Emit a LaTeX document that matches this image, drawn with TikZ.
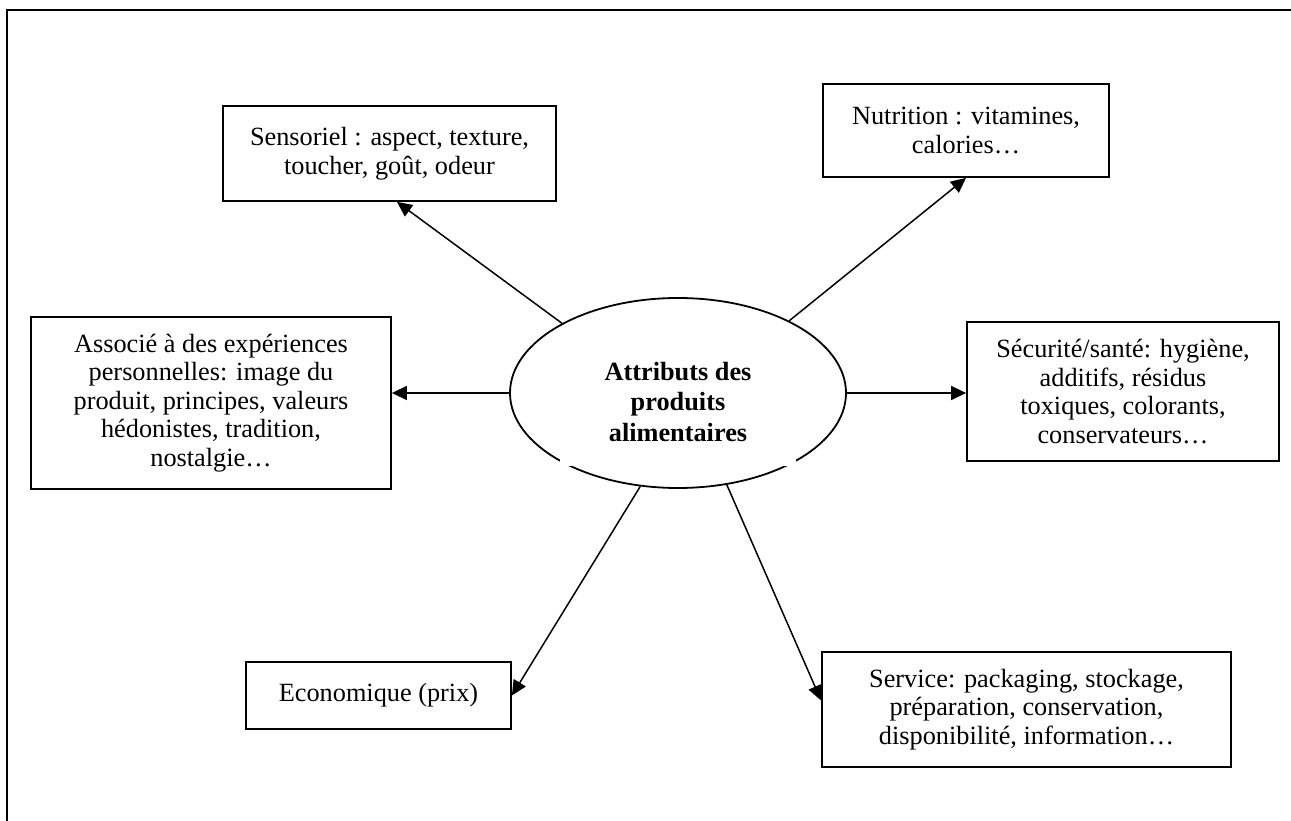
\documentclass[tikz,border=0pt]{standalone}
\usepackage{fontspec}
\setmainfont{Liberation Serif}
\usetikzlibrary{arrows.meta,calc,shapes.geometric}
\begin{document}
\begin{tikzpicture}[x=1pt,y=-1pt,
  box/.style={draw,line width=1.8pt,inner sep=0pt,align=center,
    font=\fontsize{26.3}{28.5}\selectfont},
  arr/.style={line width=1.5pt,-{Triangle[length=15pt,width=14pt]}},
  ell/.style={draw,ellipse,line width=1.8pt,inner sep=0pt}]
\useasboundingbox (0,0) rectangle (1291,821);
\coordinate (fr1) at (1291,10);
\coordinate (fr2) at (6.5,10);
\coordinate (fr3) at (6.5,821);
\draw[line width=2pt] (fr1) -- (fr2) -- (fr3);

\node[ell,minimum width=336pt,minimum height=190pt] (ell) at (678,393) {};
% white text frame of the centre label, hiding a bit of the outline
\fill[white] (560,330) rectangle (796,466);
\node[align=center,inner sep=0pt,font=\fontsize{26.3}{30.5}\selectfont\bfseries] (elltxt) at (678,402)
  {Attributs des\\produits\\alimentaires};

\node[box,minimum width=333pt,minimum height=95pt] (sens) at (389.5,153.5)
  {Sensoriel : aspect, texture,\\toucher, goût, odeur};
\node[box,minimum width=286pt,minimum height=93pt] (nutr) at (966,130.5)
  {Nutrition : vitamines,\\calories…};
\node[box,minimum width=312pt,minimum height=139pt] (secu) at (1123,391.5)
  {Sécurité/santé: hygiène,\\additifs, résidus\\toxiques, colorants,\\conservateurs…};
\node[box,minimum width=360pt,minimum height=172pt] (asso) at (211,403)
  {Associé à des expériences\\personnelles: image du\\produit, principes, valeurs\\hédonistes, tradition,\\nostalgie…};
\node[box,minimum width=265pt,minimum height=67pt] (eco) at (378.5,695.5)
  {Economique (prix)};
\node[box,minimum width=409pt,minimum height=115pt] (serv) at (1026.5,709.5)
  {Service: packaging, stockage,\\préparation, conservation,\\disponibilité, information…};

\draw[arr] (ell.149) -- ($(sens.south)+(7.5,0)$);
\draw[arr] (ell.33) -- (nutr.south);
\draw[arr] (ell.west) -- (ell.west -| asso.east);
\draw[arr] (ell.east) -- (ell.east -| secu.west);
\draw[arr] (ell.248) -- (eco.east);
\draw[arr] (ell.298) -- ($(serv.west)+(0,-9)$);
\end{tikzpicture}
\end{document}
